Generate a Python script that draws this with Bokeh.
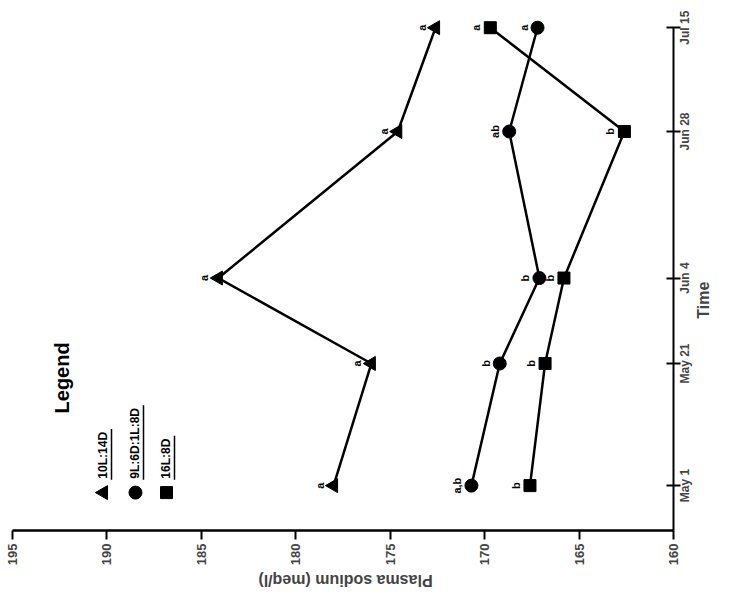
import math
from bokeh.plotting import figure
from bokeh.models import Range1d, FixedTicker, ColumnDataSource, LinearAxis
from bokeh.core.properties import value
from bokeh.embed import file_html
from bokeh.resources import INLINE

# ---- data ----
dates = ["May 1", "May 21", "Jun 4", "Jun 28", "Jul 15"]
days = [0, 20, 34, 58, 75]
tri = [178.0, 176.0, 184.1, 174.6, 172.6]      # 10L:14D
cir = [170.7, 169.2, 167.1, 168.7, 167.2]      # 9L:6D:1L:8D
sq = [167.6, 166.8, 165.8, 162.6, 169.7]       # 16L:8D
tri_lbl = ["a", "a", "a", "a", "a"]
cir_lbl = ["a,b", "b", "b", "ab", "a"]
sq_lbl = ["b", "b", "b", "b", "a"]
series_names = ["10L:14D", "9L:6D:1L:8D", "16L:8D"]
sodium_ticks = [195, 190, 185, 180, 175, 170, 165, 160]
x_title = "Plasma sodium (meq/l)"
t_title = "Time"

FONT = value("Liberation Sans")
Y0, Y1 = -7.35, 77
PX_PER_DAY = 6.12
PX_PER_UNIT = 18.886

# approximate glyph advance widths (Liberation Sans Bold, per 1000 em)
CW = {"M": 833, "a": 556, "y": 556, " ": 278, "J": 556, "u": 611, "n": 611, "l": 278,
      "T": 611, "i": 278, "m": 889, "e": 556, "P": 667, "s": 556, "o": 611, "d": 611,
      "(": 333, ")": 333, "q": 611, "/": 278, "L": 611, "D": 722, ":": 333}

def text_w(s, size):
    return sum(CW.get(c, 556) for c in s) * size / 1000.0

p = figure(width=729, height=600, x_range=Range1d(195, 160), y_range=Range1d(Y0, Y1),
           output_backend="svg", toolbar_location=None, y_axis_location=None,
           min_border_left=12, min_border_right=56, min_border_top=15, min_border_bottom=69)
p.grid.visible = False
p.outline_line_color = None

# bottom axis: sodium
xa = p.xaxis[0]
xa.ticker = FixedTicker(ticks=sodium_ticks)
xa.major_label_orientation = math.pi / 2
xa.axis_line_width = 2.5
xa.major_tick_line_width = 2
xa.major_tick_out = 9
xa.major_tick_in = 0
xa.minor_tick_line_color = None
xa.major_label_text_font = "Liberation Sans"
xa.major_label_text_font_style = "bold"
xa.major_label_text_font_size = "13px"
xa.major_label_standoff = 4

# bottom title (upside down) carried by a label-only axis
xt_w = text_w(x_title, 16)
xt_pos = 195 - ((345 - xt_w / 2) - 12) / PX_PER_UNIT
xb = LinearAxis(ticker=FixedTicker(ticks=[xt_pos]), major_label_overrides={xt_pos: x_title},
                axis_line_color=None, major_tick_line_color=None, minor_tick_line_color=None,
                major_label_orientation=math.pi, major_label_standoff=6,
                major_label_text_font="Liberation Sans", major_label_text_font_style="bold",
                major_label_text_font_size="16px")
p.add_layout(xb, "below")

# right axis: time. Ticks at the dates (drawn as minor ticks), labels centred on them,
# reading bottom to top.
lab_size = 12
shifted = [d - (text_w(s, lab_size) / 2) / PX_PER_DAY for d, s in zip(days, dates)]
yl = LinearAxis(ticker=FixedTicker(ticks=shifted, minor_ticks=days), bounds=(Y0, 75),
                major_label_overrides={t: s for t, s in zip(shifted, dates)},
                axis_line_color="black", axis_line_width=2,
                major_tick_line_color=None, major_tick_out=7, major_tick_in=0,
                minor_tick_line_color="black", minor_tick_line_width=2,
                minor_tick_in=7, minor_tick_out=7,
                major_label_orientation=math.pi / 2, major_label_standoff=5,
                major_label_text_font="Liberation Sans", major_label_text_font_style="bold",
                major_label_text_font_size=f"{lab_size}px")
p.add_layout(yl, "right")

# "Time" title
t_pos = (486 - 300) / PX_PER_DAY - (text_w(t_title, 16) / 2) / PX_PER_DAY
ta = LinearAxis(ticker=FixedTicker(ticks=[t_pos]), major_label_overrides={t_pos: t_title},
                axis_line_color=None, major_tick_line_color=None, minor_tick_line_color=None,
                major_tick_out=0, major_tick_in=0,
                major_label_orientation=math.pi / 2, major_label_standoff=1,
                major_label_text_font="Liberation Sans", major_label_text_font_style="bold",
                major_label_text_font_size="16px")
p.add_layout(ta, "right")

# series
src = ColumnDataSource(dict(day=days, tri=tri, cir=cir, sq=sq,
                            tl=tri_lbl, cl=cir_lbl, sl=sq_lbl))
for col in ["tri", "cir", "sq"]:
    p.line(col, "day", source=src, line_color="black", line_width=2.5)
p.scatter("tri", "day", source=src, marker="triangle", angle=math.pi / 2, size=14,
          fill_color="black", line_color="black")
p.scatter("cir", "day", source=src, marker="circle", size=13, fill_color="black", line_color="black")
p.scatter("sq", "day", source=src, marker="square", size=12, fill_color="black", line_color="black")
for col, lab in [("tri", "tl"), ("cir", "cl"), ("sq", "sl")]:
    p.text(col, "day", text=lab, source=src, angle=math.pi / 2, x_offset=-14,
           text_align="center", text_baseline="middle", text_font=FONT,
           text_font_style="bold", text_font_size="11px", text_color="black")

# helpers to place legend by page pixel
def sx(px):
    return 195 - (px - 12) / PX_PER_UNIT

def dy(py):
    return (486 - py) / PX_PER_DAY

p.text([sx(62)], [dy(378)], text=["Legend"], angle=math.pi / 2, text_align="center",
       text_baseline="middle", text_font=FONT, text_font_style="bold", text_font_size="20px")
leg_px = [103, 135, 166]
markers = ["triangle", "circle", "square"]
sizes = [14, 13, 12]
for xp, mk, sz, name in zip(leg_px, markers, sizes, series_names):
    p.scatter([sx(xp)], [dy(493)], marker=mk, size=sz, angle=(math.pi / 2 if mk == "triangle" else 0),
              fill_color="black", line_color="black")
    p.text([sx(xp)], [dy(479)], text=[name], angle=math.pi / 2, text_align="left",
           text_baseline="middle", text_font=FONT, text_font_style="bold",
           text_font_size="12px")
    L = text_w(name, 12) + 4
    p.segment([sx(xp + 8)], [dy(480)], [sx(xp + 8)], [dy(480 - L)], line_color="black", line_width=1.5)

open("out.html", "w").write(file_html(p, INLINE))
